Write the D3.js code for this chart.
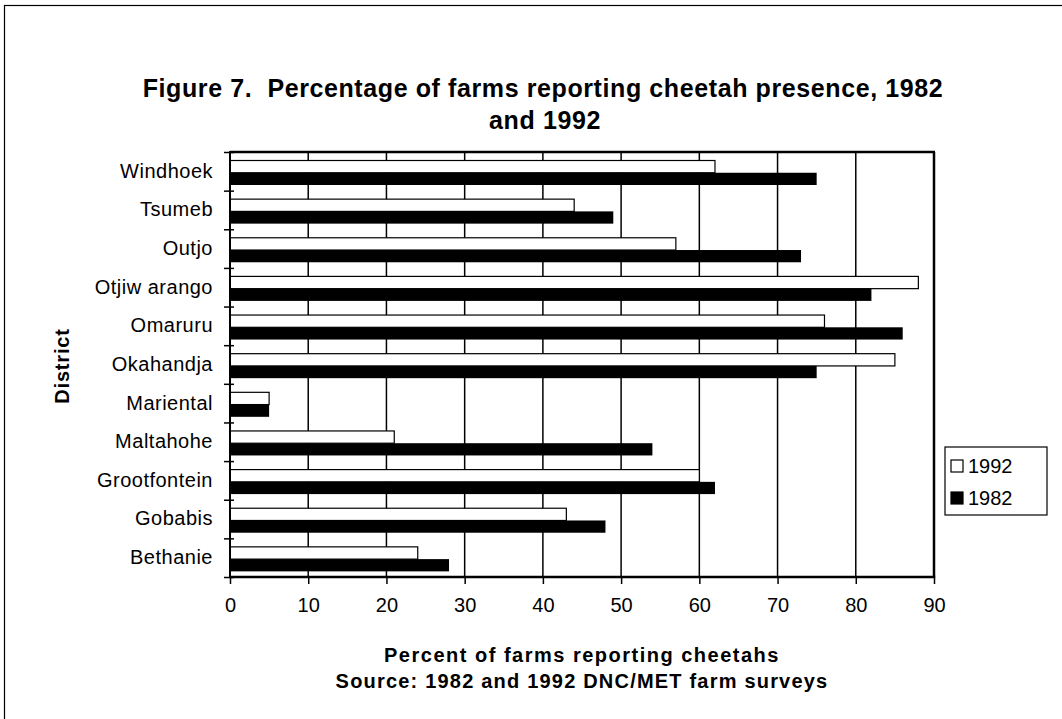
<!DOCTYPE html>
<html>
<head>
<meta charset="utf-8">
<script src="https://d3js.org/d3.v7.min.js"></script>
<style>
    body { margin: 0; background: #fff; }
    svg { font-family: Arial, "Liberation Sans", sans-serif; }
</style>
</head>
<body>
<svg id="drawing_region"></svg>
<script>
const districts = ["Windhoek", "Tsumeb", "Outjo", "Otjiw arango", "Omaruru", "Okahandja",
                   "Mariental", "Maltahohe", "Grootfontein", "Gobabis", "Bethanie"];
const values1992 = [62, 44, 57, 88, 76, 85, 5, 21, 60, 43, 24];
const values1982 = [75, 49, 73, 82, 86, 75, 5, 54, 62, 48, 28];
const series = ["1992", "1982"];
const xticks = [0, 10, 20, 30, 40, 50, 60, 70, 80, 90];

const config = {
    width: 1062,
    height: 719,
    plot: {left: 230, right: 934, top: 152, bottom: 577}
};
const FONT = 'Arial, "Liberation Sans", sans-serif';

const svg = d3.select('#drawing_region')
    .attr('width', config.width)
    .attr('height', config.height);

// outer chart border (runs off the right and bottom)
svg.append('rect')
    .attr('x', 4.5).attr('y', 5.5)
    .attr('width', 1100).attr('height', 800)
    .attr('fill', 'none')
    .attr('stroke', '#000')
    .attr('stroke-width', 1.2);

// Title
const title = svg.append('text')
    .attr('text-anchor', 'middle')
    .style('font-size', '25px')
    .style('font-weight', 'bold')
    .style('letter-spacing', '0.6px');
title.append('tspan').attr('x', 543).attr('y', 97)
    .text('Figure 7.\u00a0\u00a0Percentage of farms reporting cheetah presence, 1982');
title.append('tspan').attr('x', 545).attr('y', 129)
    .text('and 1992');

const p = config.plot;

const xscale = d3.scaleLinear()
    .domain([0, 90])
    .range([p.left, p.right]);

const yscale = d3.scaleBand()
    .domain(districts)
    .range([p.top, p.bottom]);

const yedge = d3.scaleLinear()
    .domain([0, districts.length])
    .range([p.top, p.bottom]);

const sub = d3.scaleBand()
    .domain(series)
    .range([8.5, 33]);

const chart = svg.append('g');

// gridlines
chart.append('g').selectAll('line')
    .data(xticks.filter(d => d > 0 && d < 90))
    .enter().append('line')
    .attr('x1', d => xscale(d)).attr('x2', d => xscale(d))
    .attr('y1', p.top).attr('y2', p.bottom)
    .attr('stroke', '#000')
    .attr('stroke-width', 1.5);

// bars
const rows = districts.map((d, i) => ({district: d, v1992: values1992[i], v1982: values1982[i]}));

chart.append('g').selectAll('rect')
    .data(rows)
    .enter().append('rect')
    .attr('x', xscale(0))
    .attr('y', d => yscale(d.district) + sub('1992'))
    .attr('width', d => xscale(d.v1992) - xscale(0))
    .attr('height', sub.bandwidth())
    .attr('fill', '#fff')
    .attr('stroke', '#000')
    .attr('stroke-width', 1.2);

chart.append('g').selectAll('rect')
    .data(rows)
    .enter().append('rect')
    .attr('x', xscale(0))
    .attr('y', d => yscale(d.district) + sub('1982'))
    .attr('width', d => xscale(d.v1982) - xscale(0))
    .attr('height', sub.bandwidth())
    .attr('fill', '#000');

// plot frame: top and right
chart.append('line')
    .attr('x1', p.left).attr('x2', p.right + 1)
    .attr('y1', p.top).attr('y2', p.top)
    .attr('stroke', '#000').attr('stroke-width', 2.5);
chart.append('line')
    .attr('x1', p.right).attr('x2', p.right)
    .attr('y1', p.top).attr('y2', p.bottom)
    .attr('stroke', '#000').attr('stroke-width', 2.5);

// X axis
const xaxis = d3.axisBottom(xscale)
    .tickValues(xticks)
    .tickSize(7)
    .tickPadding(14);
const xg = svg.append('g')
    .attr('transform', `translate(0, ${p.bottom})`)
    .call(xaxis);
xg.select('.domain').remove();
xg.selectAll('.tick line').attr('stroke', '#000').attr('stroke-width', 1.5);
xg.selectAll('.tick text')
    .attr('fill', '#000')
    .style('font-size', '20px')
    .style('font-family', FONT);
svg.append('line')
    .attr('x1', p.left - 1).attr('x2', p.right + 1.2)
    .attr('y1', p.bottom).attr('y2', p.bottom)
    .attr('stroke', '#000').attr('stroke-width', 2.5);

// Y axis ticks at category edges
const yticks = d3.axisLeft(yedge)
    .tickValues(d3.range(districts.length + 1))
    .tickFormat('')
    .tickSize(10);
const ytg = svg.append('g')
    .attr('transform', `translate(${p.left + 4}, 0)`)
    .call(yticks);
ytg.select('.domain').remove();
ytg.selectAll('.tick line').attr('stroke', '#000').attr('stroke-width', 1.5);

svg.append('line')
    .attr('x1', p.left).attr('x2', p.left)
    .attr('y1', p.top - 1).attr('y2', p.bottom + 1)
    .attr('stroke', '#000').attr('stroke-width', 2);

// Y category labels
const ylabels = d3.axisLeft(yscale)
    .tickSize(0)
    .tickPadding(17);
const ylg = svg.append('g')
    .attr('transform', `translate(${p.left}, 0)`)
    .call(ylabels);
ylg.select('.domain').remove();
ylg.selectAll('.tick text')
    .attr('fill', '#000')
    .style('font-size', '20px')
    .style('letter-spacing', '0.5px')
    .style('font-family', FONT);

// X label and source
svg.append('text')
    .attr('text-anchor', 'middle')
    .attr('x', 582).attr('y', 662)
    .style('font-size', '20px')
    .style('font-weight', 'bold')
    .style('letter-spacing', '1.5px')
    .text('Percent of farms reporting cheetahs');
svg.append('text')
    .attr('text-anchor', 'middle')
    .attr('x', 582).attr('y', 688)
    .style('font-size', '20px')
    .style('font-weight', 'bold')
    .style('letter-spacing', '1.2px')
    .text('Source: 1982 and 1992 DNC/MET farm surveys');

// Y label
svg.append('text')
    .attr('text-anchor', 'middle')
    .attr('transform', 'translate(69, 366) rotate(-90)')
    .style('font-size', '20px')
    .style('font-weight', 'bold')
    .style('letter-spacing', '0.8px')
    .text('District');

// Legend
const legend = svg.append('g').attr('transform', 'translate(945, 447)');
legend.append('rect')
    .attr('width', 102).attr('height', 68)
    .attr('fill', '#fff')
    .attr('stroke', '#000')
    .attr('stroke-width', 1.2);
const items = legend.selectAll('g.item')
    .data(series)
    .enter().append('g')
    .attr('class', 'item')
    .attr('transform', (d, i) => `translate(6, ${13 + i * 32})`);
items.append('rect')
    .attr('width', 12).attr('height', 12)
    .attr('fill', (d, i) => i === 0 ? '#fff' : '#000')
    .attr('stroke', '#000')
    .attr('stroke-width', 1.2);
items.append('text')
    .attr('x', 17).attr('y', 13)
    .style('font-size', '20px')
    .text(d => d);
</script>
</body>
</html>
